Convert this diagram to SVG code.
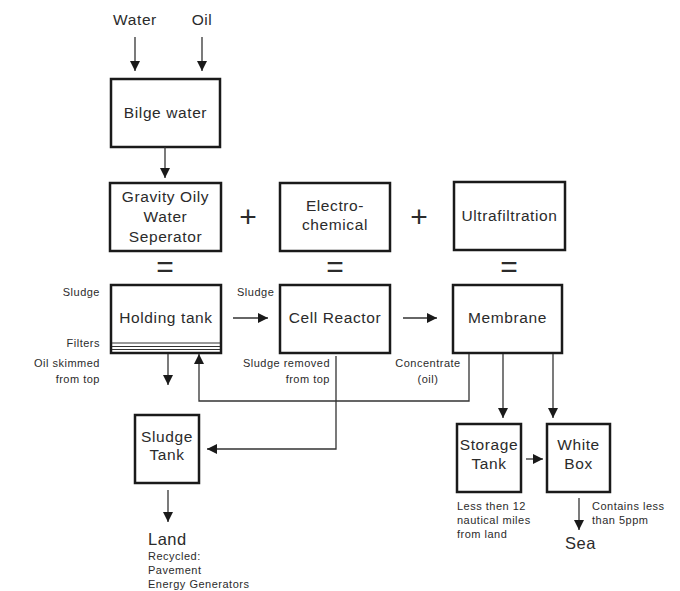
<svg xmlns="http://www.w3.org/2000/svg" width="680" height="591" viewBox="0 0 680 591">
  <defs>
    <marker id="arrow" viewBox="0 0 10 10" refX="10" refY="5" markerWidth="10" markerHeight="10" markerUnits="userSpaceOnUse" orient="auto">
      <path d="M0,0 L10,5 L0,10 Z" fill="#1a1a1a"/>
    </marker>
    <style>
      text { font-family: "Liberation Sans", "Open Sans", sans-serif; fill: #2b2b2b; }
      .box { fill: #ffffff; stroke: #1a1a1a; stroke-width: 2.5; }
      .lbl { font-size: 15.5px; letter-spacing: 0.6px; text-anchor: middle; }
      .big { font-size: 16.5px; letter-spacing: 0.5px; }
      .sm { font-size: 11px; letter-spacing: 0.5px; }
      .r { text-anchor: end; }
      .c { text-anchor: middle; }
      .op { font-size: 30px; text-anchor: middle; }
      .conn { fill: none; stroke: #333; stroke-width: 1.3; }
      .arr { marker-end: url(#arrow); }
      .filter { stroke: #333; stroke-width: 1; }
    </style>
  </defs>
  <rect width="680" height="591" fill="#ffffff"/>

  <!-- inputs -->
  <text class="lbl" x="135" y="25">Water</text>
  <text class="lbl" x="202" y="25">Oil</text>

  <!-- nodes -->
  <g id="bilge">
    <rect class="box" x="111" y="79" width="109" height="68"/>
    <text class="lbl" x="165.5" y="118">Bilge water</text>
  </g>
  <g id="gows">
    <rect class="box" x="110" y="183" width="111" height="68"/>
    <text class="lbl" x="165.5" y="202">Gravity Oily</text>
    <text class="lbl" x="165.5" y="222">Water</text>
    <text class="lbl" x="165.5" y="242">Seperator</text>
  </g>
  <g id="electro">
    <rect class="box" x="280" y="183" width="110" height="68"/>
    <text class="lbl" x="335" y="211">Electro-</text>
    <text class="lbl" x="335" y="230">chemical</text>
  </g>
  <g id="ultra">
    <rect class="box" x="454" y="182" width="111" height="68"/>
    <text class="lbl" x="509.5" y="221">Ultrafiltration</text>
  </g>

  <!-- operators -->
  <g id="operators">
    <text class="op" x="248" y="227">+</text>
    <text class="op" x="419" y="227">+</text>
    <text class="op" x="165" y="277">=</text>
    <text class="op" x="335" y="277">=</text>
    <text class="op" x="509" y="277">=</text>
  </g>

  <g id="holding">
    <rect class="box" x="111" y="285" width="110" height="68"/>
    <line class="filter" x1="112" y1="343" x2="220" y2="343"/>
    <line class="filter" x1="112" y1="346.5" x2="220" y2="346.5"/>
    <line class="filter" x1="112" y1="349.5" x2="220" y2="349.5"/>
    <text class="lbl" x="166" y="323">Holding tank</text>
    <text class="sm r" x="100" y="296">Sludge</text>
    <text class="sm r" x="100" y="347">Filters</text>
    <text class="sm r" x="100" y="367">Oil skimmed</text>
    <text class="sm r" x="100" y="383">from top</text>
  </g>
  <g id="cell">
    <rect class="box" x="280" y="285" width="110" height="68"/>
    <text class="lbl" x="335" y="323">Cell Reactor</text>
    <text class="sm" x="237" y="296">Sludge</text>
    <text class="sm r" x="330" y="367">Sludge removed</text>
    <text class="sm r" x="330" y="383">from top</text>
  </g>
  <g id="membrane">
    <rect class="box" x="453" y="285" width="109" height="68"/>
    <text class="lbl" x="507.5" y="323">Membrane</text>
    <text class="sm c" x="428" y="367">Concentrate</text>
    <text class="sm c" x="428" y="383">(oil)</text>
  </g>
  <g id="sludgetank">
    <rect class="box" x="135" y="415" width="64" height="68"/>
    <text class="lbl" x="167" y="442">Sludge</text>
    <text class="lbl" x="167" y="460">Tank</text>
  </g>
  <g id="storage">
    <rect class="box" x="457" y="424" width="64" height="68"/>
    <text class="lbl" x="489" y="450">Storage</text>
    <text class="lbl" x="489" y="469">Tank</text>
    <text class="sm" x="457" y="510">Less then 12</text>
    <text class="sm" x="457" y="524">nautical miles</text>
    <text class="sm" x="457" y="538">from land</text>
  </g>
  <g id="whitebox">
    <rect class="box" x="547" y="424" width="63" height="68"/>
    <text class="lbl" x="578.5" y="450">White</text>
    <text class="lbl" x="578.5" y="469">Box</text>
    <text class="sm" x="592" y="510">Contains less</text>
    <text class="sm" x="592" y="524">than 5ppm</text>
  </g>
  <g id="land">
    <text class="big" x="148" y="545">Land</text>
    <text class="sm" x="148" y="560">Recycled:</text>
    <text class="sm" x="148" y="574">Pavement</text>
    <text class="sm" x="148" y="588">Energy Generators</text>
  </g>
  <g id="sea">
    <text class="big" x="565" y="549">Sea</text>
  </g>

  <!-- connectors -->
  <g id="connectors">
    <line class="conn arr" x1="135" y1="37" x2="135" y2="71"/>
    <line class="conn arr" x1="202" y1="37" x2="202" y2="71"/>
    <line class="conn arr" x1="165" y1="147" x2="165" y2="178"/>
    <line class="conn arr" x1="233" y1="318" x2="268" y2="318"/>
    <line class="conn arr" x1="403" y1="318" x2="437" y2="318"/>
    <line class="conn arr" x1="168" y1="354" x2="168" y2="385"/>
    <polyline class="conn arr" points="469,354 469,401 199,401 199,354"/>
    <polyline class="conn arr" points="336,356 336,449 207,449"/>
    <line class="conn arr" x1="503" y1="354" x2="503" y2="418"/>
    <line class="conn arr" x1="553" y1="354" x2="553" y2="418"/>
    <line class="conn arr" x1="526" y1="459" x2="543" y2="459"/>
    <line class="conn arr" x1="168" y1="490" x2="168" y2="522"/>
    <line class="conn arr" x1="579" y1="498" x2="579" y2="530"/>
  </g>
</svg>
